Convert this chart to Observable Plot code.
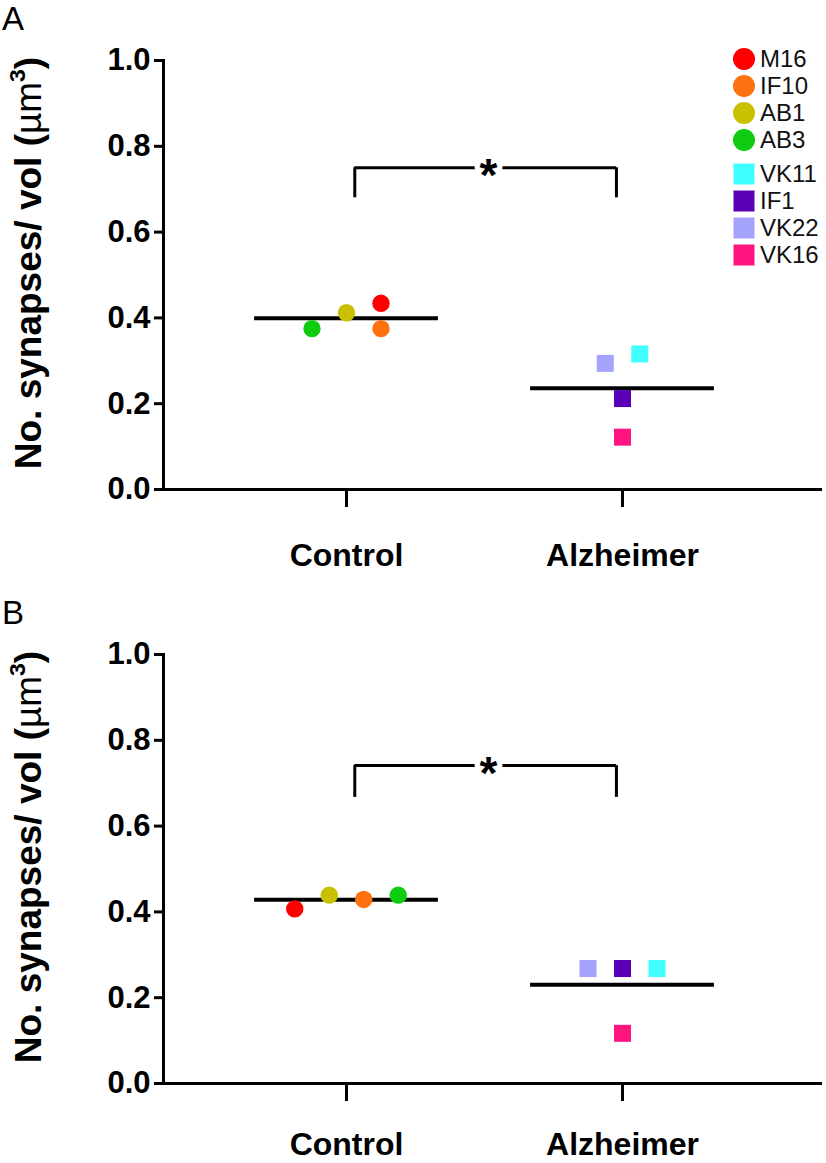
<!DOCTYPE html>
<html><head><meta charset="utf-8">
<script src="https://cdn.jsdelivr.net/npm/d3@7"></script>
<script src="https://cdn.jsdelivr.net/npm/@observablehq/plot@0.6"></script>
<style>
body{margin:0;background:#fff;font-family:"Liberation Sans",Arial,sans-serif;}
#wrap{position:relative;width:826px;height:1163px;overflow:hidden;}
.panel{position:absolute;left:0;}
.plabel{position:absolute;left:2px;font-size:33px;line-height:1;}
#legend{position:absolute;left:733px;top:45px;font-size:24px;color:#111;}
.row{display:flex;align-items:center;height:27px;}
.row svg{margin-right:5px;flex:none;}
.gap{height:7px;}
</style></head><body><div id="wrap"></div>
<script>
const groups = ["Control", "Alzheimer"];
const subjects = ["M16", "IF10", "AB1", "AB3", "VK11", "IF1", "VK22", "VK16"];
const subjectGroup = ["Control", "Control", "Control", "Control", "Alzheimer", "Alzheimer", "Alzheimer", "Alzheimer"];
const colors = ["#ff0000", "#ff7010", "#c8c000", "#10cc10", "#40ffff", "#5a00b8", "#a4a4ff", "#ff1480"];
const valuesA = [0.434, 0.375, 0.412, 0.375, 0.316, 0.212, 0.294, 0.122];
const valuesB = [0.407, 0.429, 0.439, 0.439, 0.268, 0.268, 0.268, 0.117];
// horizontal scatter slot of each subject within its group
const slotsA = [1, 1, 0, -1, 0.5, 0, -0.5, 0];
const slotsB = [-1.5, 0.5, -0.5, 1.5, 1, 0, -1, 0];
const yTicks = [0, 0.2, 0.4, 0.6, 0.8, 1.0];
const yTitle = "No. synapses/ vol (µm³)";
const sigA = {y: 0.75, low: 0.68, label: "*"};
const sigB = {y: 0.741, low: 0.667, label: "*"};

const FONT = '"Liberation Sans", Arial, sans-serif';
const SLOT = 0.125, HALF = 0.333, BX1 = 0.03, BX2 = 0.978, BMID = 0.514;

function panel(values, slots, sig, height, marginBottom, labelPad) {
  const data = subjects.map((s, i) => ({s, g: subjectGroup[i], gi: groups.indexOf(subjectGroup[i]), v: values[i], slot: slots[i], c: colors[i]}));
  const means = groups.map((g, gi) => ({gi, m: d3.mean(data.filter(d => d.g === g), d => d.v)}));
  const circ = data.filter(d => d.g === "Control");
  const sq = data.filter(d => d.g !== "Control");
  const px = d => d.gi + d.slot * SLOT;
  return Plot.plot({
    width: 826, height, marginTop: 60, marginBottom, marginLeft: 163, marginRight: 6,
    style: {fontFamily: FONT, background: "white", overflow: "visible"},
    x: {type: "linear", domain: [0, 1], range: [346, 622], axis: null},
    y: {domain: [0, 1], axis: null},
    color: {type: "identity"},
    marks: [
      Plot.frame({anchor: "left", strokeWidth: 3}),
      Plot.frame({anchor: "bottom", strokeWidth: 3}),
      Plot.axisY({ticks: yTicks, tickFormat: d => d.toFixed(1), tickSize: 9, tickPadding: 4, fontSize: 31, fontWeight: "bold", strokeWidth: 3, label: null}),
      Plot.axisX({ticks: [0, 1], tickFormat: i => groups[i], tickSize: 18, tickPadding: labelPad, fontSize: 32, fontWeight: "bold", strokeWidth: 3, label: null}),
      Plot.ruleY(means, {y: "m", x1: d => d.gi - HALF, x2: d => d.gi + HALF, strokeWidth: 4}),
      Plot.dot(circ, {x: px, y: "v", r: 8.7, fill: "c", symbol: "circle"}),
      Plot.dot(sq, {x: px, y: "v", r: 9.6, fill: "c", symbol: "square"}),
      Plot.ruleX([BX1, BX2], {y1: sig.low, y2: sig.y, strokeWidth: 3}),
      Plot.ruleY([sig.y], {x1: BX1, x2: BX2, strokeWidth: 3}),
      Plot.text([sig], {x: BMID, y: "y", text: "label", fontSize: 46, fontWeight: "bold", fill: "black", stroke: "white", strokeWidth: 10, dy: 9}),
      Plot.text([yTitle], {frameAnchor: "left", textAnchor: "middle", text: d => d, rotate: -90, dx: -134, dy: -12, fontSize: 37, fontWeight: "bold", fill: "black", className: "ytitle"})
    ]
  });
}

function fixTitle(svg) {
  d3.select(svg).selectAll(".ytitle text").each(function () {
    const t = d3.select(this);
    t.text(null);
    t.append("tspan").text("No. synapses/ vol (");
    t.append("tspan").attr("font-weight", "normal").text("µm");
    t.append("tspan").attr("font-size", "0.62em").attr("dy", "-0.7em").text("3");
    t.append("tspan").attr("dy", "0.43em").text(")");
  });
}

const wrap = document.getElementById("wrap");
const specs = [
  {values: valuesA, slots: slotsA, sig: sigA, top: 0, height: 594, mb: 105, pad: 36, label: "A"},
  {values: valuesB, slots: slotsB, sig: sigB, top: 594, height: 569, mb: 80, pad: 31, label: "B"}
];
for (const s of specs) {
  const svg = panel(s.values, s.slots, s.sig, s.height, s.mb, s.pad);
  fixTitle(svg);
  svg.classList.add("panel");
  svg.style.top = s.top + "px";
  wrap.appendChild(svg);
  const lab = document.createElement("div");
  lab.className = "plabel";
  lab.style.top = (s.top + 2) + "px";
  lab.textContent = s.label;
  wrap.appendChild(lab);
}

// legend
const legend = document.createElement("div");
legend.id = "legend";
subjects.forEach((s, i) => {
  if (i === 4) { const g = document.createElement("div"); g.className = "gap"; legend.appendChild(g); }
  const row = document.createElement("div");
  row.className = "row";
  const isCirc = subjectGroup[i] === "Control";
  const sw = d3.create("svg").attr("width", 22).attr("height", 22);
  if (isCirc) sw.append("circle").attr("cx", 11).attr("cy", 11).attr("r", 11).attr("fill", colors[i]);
  else sw.append("rect").attr("x", 0.5).attr("y", 0.5).attr("width", 21).attr("height", 21).attr("fill", colors[i]);
  row.appendChild(sw.node());
  const t = document.createElement("span");
  t.textContent = s;
  row.appendChild(t);
  legend.appendChild(row);
});
wrap.appendChild(legend);
</script></body></html>
